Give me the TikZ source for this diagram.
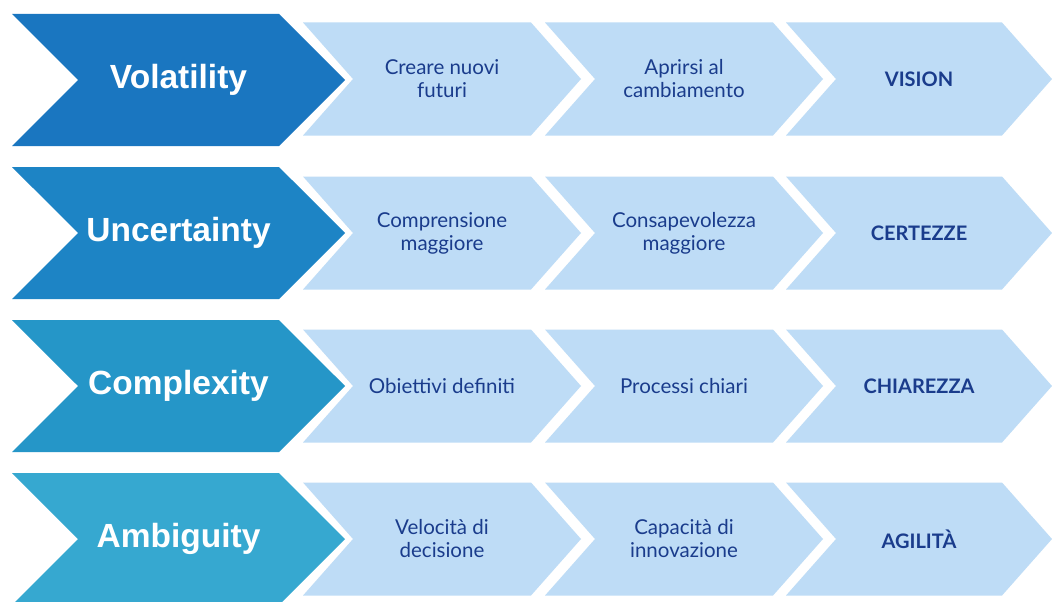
\documentclass[tikz,border=0pt]{standalone}
\usepackage{fontspec}
\setmainfont{Lato}
\newfontfamily\headfont{Liberation Sans}
\usetikzlibrary{shapes.symbols}

\definecolor{vucaV}{HTML}{1A76C0}
\definecolor{vucaU}{HTML}{1D84C5}
\definecolor{vucaC}{HTML}{2596C8}
\definecolor{vucaA}{HTML}{36A8D0}
\definecolor{stepfill}{HTML}{BEDCF6}
\definecolor{steptext}{HTML}{1A3C8C}

\begin{document}
\begin{tikzpicture}[x=1pt, y=-1pt,
  head/.style={signal, signal from=west, signal to=east, signal pointer angle=90,
    minimum width=333pt, minimum height=132pt, inner sep=0pt,
    text=white, font=\headfont\bfseries\fontsize{33.5}{36}\selectfont},
  stage/.style={signal, signal from=west, signal to=east, signal pointer angle=97,
    fill=stepfill, minimum width=278pt, minimum height=113pt, inner sep=0pt,
    text=steptext, align=center, font=\fontsize{20.5}{23}\selectfont},
  goal/.style={stage, minimum width=266pt, font=\bfseries\fontsize{20}{23}\selectfont}]
  \useasboundingbox[fill=white] (0,0) rectangle (1052,602);

  % Volatility
  \node[head, fill=vucaV] (vol) at (178.5,80) {Volatility};
  \node[stage] (vol1) at (442,79) {Creare nuovi\\futuri};
  \node[stage] (vol2) at (684,79) {Aprirsi al\\cambiamento};
  \node[goal] (vol3) at (919,79) {VISION};

  % Uncertainty
  \node[head, fill=vucaU] (unc) at (178.5,233) {Uncertainty};
  \node[stage] (unc1) at (442,233) {Comprensione\\maggiore};
  \node[stage] (unc2) at (684,233) {Consapevolezza\\maggiore};
  \node[goal] (unc3) at (919,233) {CERTEZZE};

  % Complexity
  \node[head, fill=vucaC] (cpx) at (178.5,386) {Complexity};
  \node[stage] (cpx1) at (442,386) {Obiettivi definiti};
  \node[stage] (cpx2) at (684,386) {Processi chiari};
  \node[goal] (cpx3) at (919,386) {CHIAREZZA};

  % Ambiguity
  \node[head, fill=vucaA] (amb) at (178.5,539) {Ambiguity};
  \node[stage] (amb1) at (442,539) {Velocità di\\decisione};
  \node[stage] (amb2) at (684,539) {Capacità di\\innovazione};
  \node[goal] (amb3) at (919,539) {AGILITÀ};
\end{tikzpicture}
\end{document}
